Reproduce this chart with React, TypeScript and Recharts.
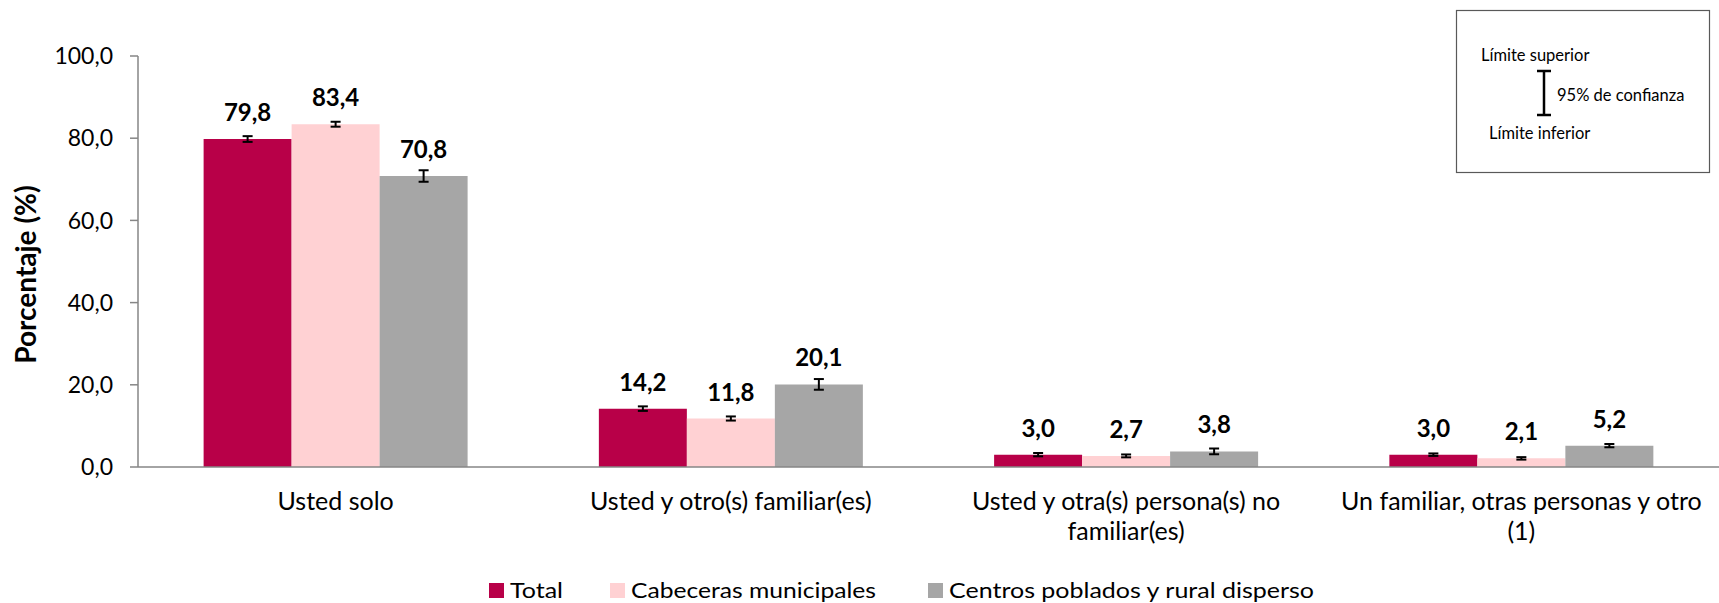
import React from 'react'
import {
  BarChart,
  Bar,
  XAxis,
  YAxis,
  ErrorBar,
  LabelList,
  Legend,
  Label,
} from 'recharts'

// categorias y series (porcentajes)
const categories = [
  'Usted solo',
  'Usted y otro(s) familiar(es)',
  'Usted y otra(s) persona(s) no\nfamiliar(es)',
  'Un familiar, otras personas y otro\n(1)',
]
const total = [79.8, 14.2, 3.0, 3.0]
const cabeceras = [83.4, 11.8, 2.7, 2.1]
const centros = [70.8, 20.1, 3.8, 5.2]

// semiamplitud del intervalo de 95% de confianza
const totalErr = [0.7, 0.55, 0.4, 0.3]
const cabecerasErr = [0.6, 0.5, 0.35, 0.3]
const centrosErr = [1.4, 1.3, 0.7, 0.4]

const yTicks = [0, 20, 40, 60, 80, 100]
const boundaryTicks = [0, 1, 2, 3, 4]

const legendItems = [
  { name: 'Total', color: '#B80048', x: 489, len: 53 },
  { name: 'Cabeceras municipales', color: '#FFD1D3', x: 610, len: 245 },
  { name: 'Centros poblados y rural disperso', color: '#A6A6A6', x: 928, len: 365 },
]

const data = categories.map((c, i) => ({
  category: c,
  total: total[i],
  cabeceras: cabeceras[i],
  centros: centros[i],
  totalErr: totalErr[i],
  cabecerasErr: cabecerasErr[i],
  centrosErr: centrosErr[i],
}))

const FONT = 'Lato, "Noto Sans", sans-serif'
const AXIS = '#868686'
const fmt = (v: any) => Number(v).toFixed(1).replace('.', ',')

function CategoryTick(props: any) {
  const { x, y, payload } = props
  const lines = String(payload.value).split('\n')
  return (
    <g>
      {lines.map((line, i) => (
        <text
          key={i}
          x={x}
          y={y + 35 + i * 30}
          textAnchor="middle"
          fontFamily={FONT}
          fontSize={25}
          fill="#000"
        >
          {line}
        </text>
      ))}
    </g>
  )
}

function LegendContent() {
  return (
    <svg width={1719} height={30} style={{ display: 'block' }}>
      {legendItems.map((it) => (
        <g key={it.name}>
          <rect x={it.x} y={8} width={15} height={15} fill={it.color} />
          <text
            x={it.x + 21}
            y={23}
            fontFamily={FONT}
            fontSize={22}
            textLength={it.len}
            lengthAdjust="spacingAndGlyphs"
            fill="#000"
          >
            {it.name}
          </text>
        </g>
      ))}
    </svg>
  )
}

function YLabel(props: any) {
  const { viewBox } = props
  const cy = viewBox.y + viewBox.height / 2 + 13
  return (
    <text
      x={25}
      y={cy}
      transform={`rotate(-90, 25, ${cy})`}
      textAnchor="middle"
      dominantBaseline="central"
      fontFamily={FONT}
      fontSize={28}
      fontWeight="bold"
      fill="#000"
    >
      Porcentaje (%)
    </text>
  )
}

const labelProps = {
  position: 'top' as const,
  offset: 18,
  formatter: fmt,
  fontFamily: FONT,
  fontSize: 24,
  fontWeight: 'bold',
  fill: '#000',
}

export default function App() {
  return (
    <div style={{ position: 'absolute', left: 0, top: 0, width: 1719, height: 603, background: '#fff' }}>
      <BarChart
        width={1719}
        height={603}
        data={data}
        margin={{ top: 56, right: 0, left: 0, bottom: 0 }}
        barGap={0}
        barCategoryGap="16.6%"
      >
        <XAxis
          xAxisId="grid"
          type="number"
          domain={[0, 4]}
          ticks={boundaryTicks}
          tick={false}
          tickSize={8}
          axisLine={false}
          tickLine={{ stroke: AXIS, strokeWidth: 1.5 }}
          height={0}
        />
        <XAxis
          dataKey="category"
          interval={0}
          height={136}
          tickLine={false}
          axisLine={{ stroke: AXIS, strokeWidth: 1.5 }}
          tick={<CategoryTick />}
        />
        <YAxis
          width={138}
          domain={[0, 100]}
          ticks={yTicks}
          tickFormatter={fmt}
          tickSize={8}
          tickMargin={17}
          axisLine={{ stroke: AXIS, strokeWidth: 1.5 }}
          tickLine={{ stroke: AXIS, strokeWidth: 1.5 }}
          tick={{ fontFamily: FONT, fontSize: 23, fill: '#000' }}
        >
          <Label content={<YLabel />} />
        </YAxis>
        <Legend
          verticalAlign="middle"
          align="center"
          layout="horizontal"
          wrapperStyle={{ top: 575, left: 0, width: 1719 }}
          content={<LegendContent />}
        />
        <Bar dataKey="total" name="Total" fill="#B80048" isAnimationActive={false}>
          <ErrorBar dataKey="totalErr" width={5} strokeWidth={2} stroke="#000" isAnimationActive={false} />
          <LabelList dataKey="total" {...labelProps} />
        </Bar>
        <Bar dataKey="cabeceras" name="Cabeceras municipales" fill="#FFD1D3" isAnimationActive={false}>
          <ErrorBar dataKey="cabecerasErr" width={5} strokeWidth={2} stroke="#000" isAnimationActive={false} />
          <LabelList dataKey="cabeceras" {...labelProps} />
        </Bar>
        <Bar dataKey="centros" name="Centros poblados y rural disperso" fill="#A6A6A6" isAnimationActive={false}>
          <ErrorBar dataKey="centrosErr" width={5} strokeWidth={2} stroke="#000" isAnimationActive={false} />
          <LabelList dataKey="centros" {...labelProps} />
        </Bar>
      </BarChart>

      {/* recuadro explicativo del intervalo de confianza */}
      <svg
        width={1719}
        height={603}
        style={{ position: 'absolute', left: 0, top: 0, pointerEvents: 'none' }}
      >
        <rect x={1456.5} y={10.5} width={253} height={162} fill="#fff" stroke="#595959" strokeWidth={1.2} />
        <text x={1481} y={61} fontFamily={FONT} fontSize={16.5} fill="#000">Límite superior</text>
        <text x={1489} y={139} fontFamily={FONT} fontSize={16.5} fill="#000">Límite inferior</text>
        <text x={1557} y={101} fontFamily={FONT} fontSize={16.5} fill="#000">95% de confianza</text>
        <g stroke="#000" strokeWidth={2.5}>
          <line x1={1544} y1={71} x2={1544} y2={115} />
          <line x1={1537} y1={71} x2={1551} y2={71} />
          <line x1={1537} y1={115} x2={1551} y2={115} />
        </g>
      </svg>
    </div>
  )
}
